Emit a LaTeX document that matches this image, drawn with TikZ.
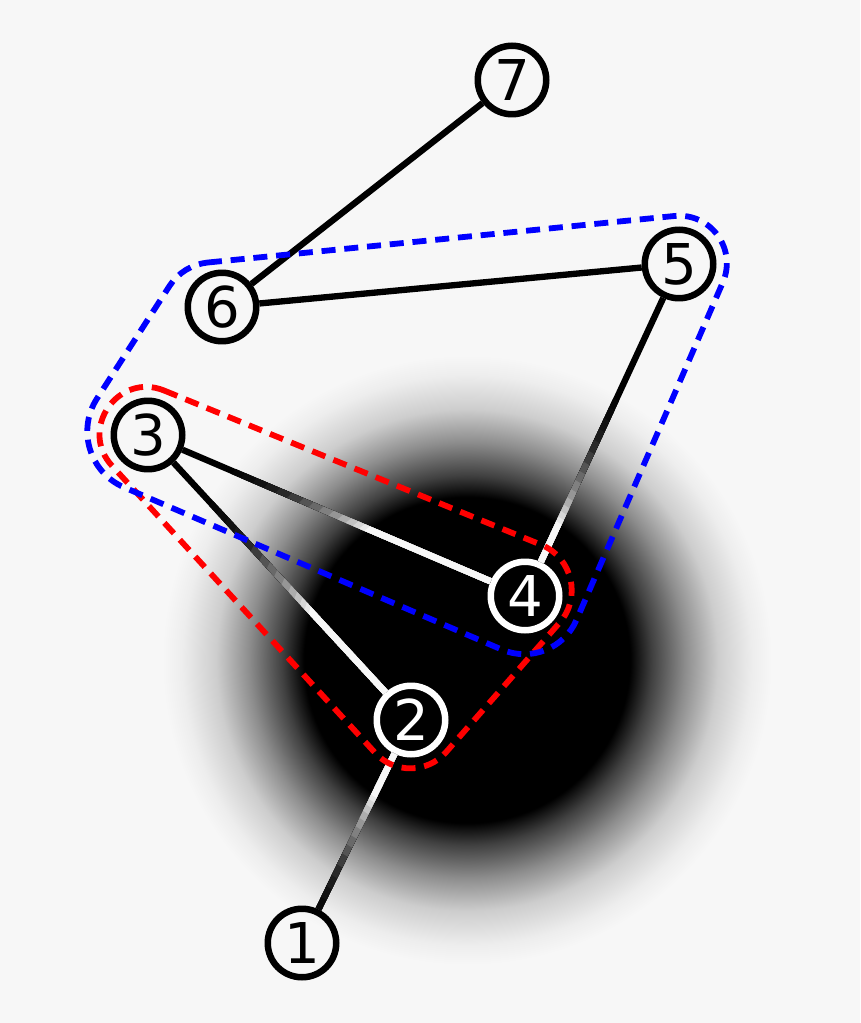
\documentclass[tikz,border=0pt]{standalone}
\usepackage{fontspec}
\setmainfont{DejaVu Sans}
\usepackage{xcolor}
\usepackage{tikz}
\definecolor{bgcol}{RGB}{247,247,247}
\pgfdeclareradialshading{glow}{\pgfpoint{0cm}{0cm}}{%
  color(0cm)=(black); color(3.26cm)=(black); color(3.70cm)=(black!74!bgcol);
  color(4.36cm)=(black!43!bgcol); color(5.02cm)=(black!17!bgcol);
  color(5.70cm)=(black!4!bgcol); color(6.10cm)=(bgcol)}
\newcommand{\alledges}[1]{%
  \draw[ln,#1] (n7) -- (n6);
  \draw[ln,#1] (n6) -- (n5);
  \draw[ln,#1] (n5) -- (n4);
  \draw[ln,#1] (n3) -- (n4);
  \draw[ln,#1] (n3) -- (n2);
  \draw[ln,#1] (n2) -- (n1);}

\begin{document}
\begin{tikzpicture}[
  x=0.02cm, y=-0.02cm,
  vtx/.style={circle, draw=black, line width=3.7pt,
              minimum size=1.37cm, inner sep=0pt, outer sep=1.85pt,
              text=black, font=\fontsize{32}{38}\selectfont},
  dvtx/.style={vtx, draw=white, text=white},
  ln/.style={line width=3.6pt},
  rhull/.style={draw=red, line width=3.3pt, dash pattern=on 8pt off 5pt},
  bhull/.style={draw=blue, line width=3.3pt, dash pattern=on 8pt off 5pt},
]
  \useasboundingbox (0,0) rectangle (860,1023);
  \fill[bgcol] (0,0) rectangle (860,1023);
  \node[inner sep=0pt] (blob) at (467,660) {\pgfuseshading{glow}};

  \node[vtx] (n1) at (302,943) {1};
  \node[dvtx] (n2) at (411,720) {2};
  \node[vtx] (n3) at (148,435) {3};
  \node[dvtx] (n4) at (525,596) {4};
  \node[vtx] (n5) at (679,264) {5};
  \node[vtx] (n6) at (222,307) {6};
  \node[vtx] (n7) at (512,80) {7};

  % edges turn light over the dark spot
  \alledges{black}
  \foreach \r/\p in {300/2, 290/4, 278/7, 266/11, 254/16, 242/24, 230/33,
                     220/41, 210/50, 200/59, 191/68, 183/76, 176/84,
                     170/91, 165/97} {
    \begin{scope}
      \clip (blob.center) circle[radius=\r];
      \alledges{white!\p!black}
    \end{scope}
  }

  % groups {2,3,4} and {3,4,5,6}
  \draw[rhull] (164.3,390.6) -- (541.2,544.8)
    .. controls (572.4,557.7) and (581.8,597.4) .. (559.5,622.8) -- (446.0,752.2)
    .. controls (427.3,773.4) and (394.3,773.8) .. (375.2,752.9) -- (112.0,465.8)
    .. controls (78.3,429.1) and (118.2,371.7) .. (164.3,390.6) -- cycle;
  \draw[bhull] (207.9,262.5) -- (674.4,216.0)
    .. controls (710.6,212.4) and (737.3,248.9) .. (722.8,282.4) -- (576.6,619.7)
    .. controls (564.1,648.6) and (530.6,662.0) .. (501.6,649.5) -- (124.2,487.4)
    .. controls (89.6,472.6) and (76.6,430.1) .. (97.0,398.5) -- (169.5,286.0)
    .. controls (178.0,272.7) and (192.2,264.1) .. (207.9,262.5) -- cycle;
\end{tikzpicture}
\end{document}
